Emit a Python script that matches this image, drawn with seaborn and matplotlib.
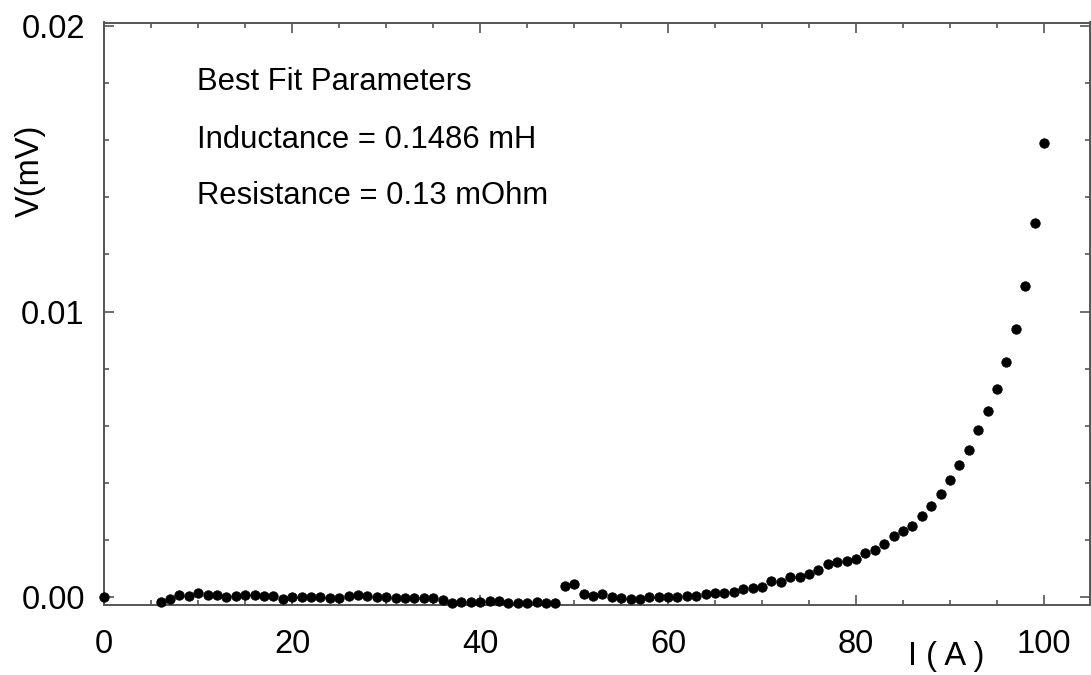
import numpy as np
import pandas as pd
import matplotlib
matplotlib.use("Agg")
import matplotlib.pyplot as plt
import seaborn as sns
from matplotlib.ticker import MultipleLocator, FixedLocator, FixedFormatter

# Measured current (A) and voltage (mV) across the coil
current_a = [0] + list(range(6, 101))
voltage_e4 = [
    0.0,
    -1.5, -0.7, 0.9, 0.6, 1.4, 0.9, 0.9, 0.0, 0.6, 0.9,
    0.9, 0.6, 0.6, -0.5, 0.2, 0.2, 0.2, 0.2, -0.4, -0.4,
    0.6, 0.9, 0.6, 0.2, 0.2, -0.1, -0.1, -0.1, -0.1, -0.1,
    -0.8, -2.1, -1.8, -1.8, -1.8, -1.4, -1.4, -2.1, -1.9, -2.1,
    -1.8, -2.1, -2.1, 3.8, 4.7, 1.0, 0.3, 1.0, 0.2, -0.3,
    -0.7, -0.7, 0.1, 0.2, 0.2, 0.2, 0.6, 0.6, 1.2, 1.6,
    1.6, 2.0, 2.8, 3.2, 3.5, 5.8, 5.4, 7.2, 7.2, 8.2,
    9.6, 11.6, 12.3, 12.7, 13.5, 15.5, 16.7, 18.7, 21.4, 23.2,
    24.9, 28.3, 31.8, 36.2, 41.1, 46.4, 51.4, 58.4, 65.1, 73.0,
    82.5, 93.8, 109.0, 130.9, 159.1,
]
voltage_mv = [v * 1e-4 for v in voltage_e4]

x_ticks = [0, 20, 40, 60, 80, 100]
x_tick_labels = ["0", "20", "40", "60", "80", "100"]
y_ticks = [0.0, 0.01, 0.02]
y_tick_labels = ["0.00", "0.01", "0.02"]

fit_lines = ["Best Fit Parameters",
             "Inductance = 0.1486 mH",
             "Resistance = 0.13 mOhm"]

df = pd.DataFrame({"I": current_a, "V": voltage_mv})

sns.set_theme(style="ticks")
plt.rcParams["font.family"] = ["Liberation Sans", "DejaVu Sans"]

fig = plt.figure(figsize=(10.91, 6.75), dpi=100)
ax = fig.add_axes([104.3 / 1091, 1 - 605 / 675, (1090 - 104.3) / 1091, (605 - 22.5) / 675])

sns.scatterplot(data=df, x="I", y="V", ax=ax, color="black", marker="o",
                s=46, edgecolor="black", linewidth=0.6, clip_on=False, zorder=3)

ax.set_xlim(0, 104.9)
ax.set_ylim(-0.00027, 0.02012)

ax.xaxis.set_major_locator(FixedLocator(x_ticks))
ax.xaxis.set_major_formatter(FixedFormatter(x_tick_labels))
ax.xaxis.set_minor_locator(MultipleLocator(5))
ax.yaxis.set_major_locator(FixedLocator(y_ticks))
ax.yaxis.set_major_formatter(FixedFormatter(y_tick_labels))
ax.yaxis.set_minor_locator(MultipleLocator(0.002))

spine_color = "#555555"
for sp in ax.spines.values():
    sp.set_visible(True)
    sp.set_color(spine_color)
    sp.set_linewidth(1.4)

ax.tick_params(which="both", direction="in", top=True, right=True,
               color=spine_color, width=1.2, labelcolor="black")
ax.tick_params(which="major", length=7, labelsize=23.5)
ax.tick_params(which="minor", length=3.5)
ax.tick_params(axis="x", which="major", pad=17)
ax.tick_params(axis="y", which="major", pad=14)

ax.set_xlabel("I ( A )", fontsize=23.5, color="black")
ax.xaxis.label.set_va("center")
ax.xaxis.set_label_coords((946 - 104.3) / 985.7, (605 - 657) / 582.5)
ax.set_ylabel("V(mV)", fontsize=23.5, color="black")
ax.yaxis.label.set_va("center")
ax.yaxis.set_label_coords((30 - 104.3) / 985.7, (605 - 171) / 582.5)

for line, base_px in zip(fit_lines, [90.5, 147.5, 204.5]):
    ax.text((197 - 104.3) / 985.7, (605 - base_px) / 582.5, line,
            transform=ax.transAxes, fontsize=22.3, color="black",
            ha="left", va="baseline")

fig.savefig("out.png", dpi=100)
